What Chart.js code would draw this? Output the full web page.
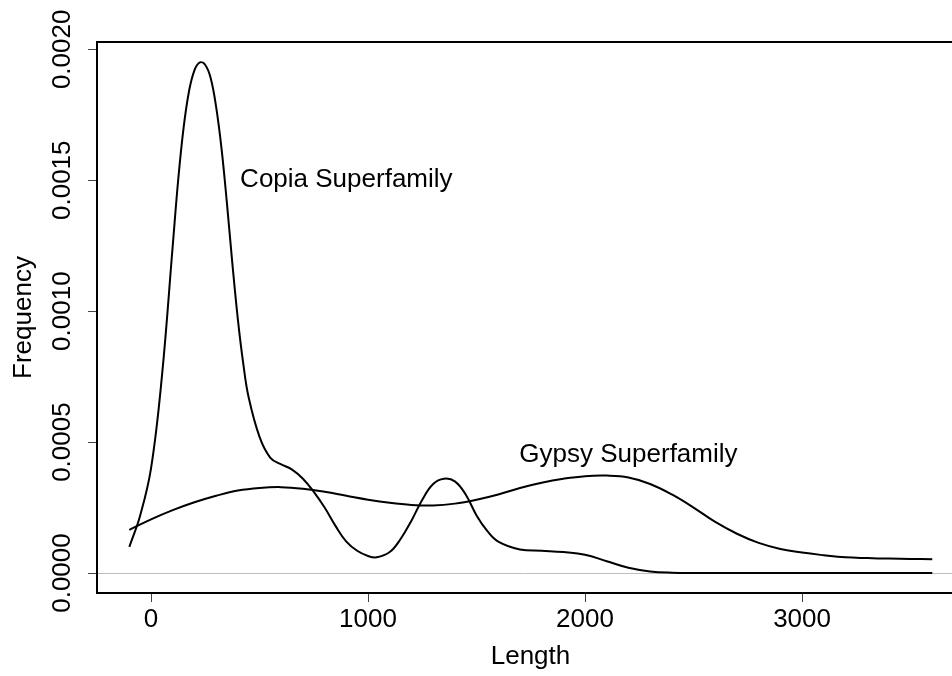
<!DOCTYPE html>
<html>
<head>
<meta charset="utf-8">
<script src="https://cdn.jsdelivr.net/npm/chart.js@4"></script>
<style>
  html, body { margin: 0; padding: 0; background: #fff; }
  #wrap { width: 952px; height: 676px; }
</style>
</head>
<body>
<div id="wrap"><canvas id="chDensity" width="952" height="676"></canvas></div>
<script>
// density curves
const lengthX = [-100, -50, 0, 50, 100, 125, 150, 175, 200, 225, 250, 275, 300, 325, 350, 375, 400, 425, 450, 500, 550, 600, 650, 700, 750, 800, 850, 900, 950, 1000, 1040, 1100, 1150, 1200, 1250, 1300, 1350, 1400, 1450, 1500, 1550, 1600, 1700, 1800, 1900, 2000, 2100, 2200, 2300, 2400, 2500, 2800, 3200, 3600];
const copia = [0.0001, 0.00022, 0.0004, 0.00075, 0.00125, 0.0015, 0.0017, 0.00184, 0.00192, 0.00195, 0.00194, 0.00189, 0.00178, 0.00162, 0.00141, 0.00118, 0.00097, 0.0008, 0.00067, 0.00052, 0.00044, 0.000415, 0.000395, 0.00036, 0.00031, 0.00025, 0.00018, 0.00012, 0.000085, 0.000065, 0.00006, 0.00008, 0.00013, 0.0002, 0.00028, 0.00034, 0.00036, 0.00035, 0.0003, 0.00022, 0.00016, 0.00012, 0.00009, 0.000085, 0.00008, 0.00007, 0.000045, 0.00002, 0.000006, 0.000001, 0, 0, 0, 0];

const gypsyX = [-100, 0, 100, 200, 300, 400, 500, 600, 700, 800, 900, 1000, 1100, 1200, 1300, 1400, 1500, 1600, 1700, 1800, 1900, 2000, 2100, 2200, 2300, 2400, 2500, 2600, 2700, 2800, 2900, 3000, 3100, 3200, 3300, 3400, 3500, 3600];
const gypsy = [0.000165, 0.000205, 0.00024, 0.00027, 0.000295, 0.000315, 0.000325, 0.000328, 0.000322, 0.00031, 0.000295, 0.00028, 0.000268, 0.00026, 0.000258, 0.000265, 0.00028, 0.0003, 0.000325, 0.000345, 0.00036, 0.00037, 0.000372, 0.000365, 0.00034, 0.0003, 0.00025, 0.000195, 0.00015, 0.000115, 0.000092, 0.000078, 0.000068, 0.00006, 0.000057, 0.000055, 0.000054, 0.000053];

const xTicks = [0, 1000, 2000, 3000];
const yTicks = [0, 0.0005, 0.001, 0.0015, 0.002];
const yTickLabels = ['0.0000', '0.0005', '0.0010', '0.0015', '0.0020'];
const notes = [
  { text: 'Copia Superfamily', x: 900, y: 0.0015 },
  { text: 'Gypsy Superfamily', x: 2200, y: 0.00045 }
];

const FONT = '26px "Liberation Sans", Arial, sans-serif';

// R-style box, zero line, rotated y labels and annotations
const rDecor = {
  id: 'rDecor',
  beforeDatasetsDraw(chart) {
    const { ctx, chartArea: a, scales: { y } } = chart;
    const y0 = y.getPixelForValue(0);
    ctx.save();
    ctx.strokeStyle = '#bebebe';
    ctx.lineWidth = 1;
    ctx.beginPath();
    ctx.moveTo(a.left, Math.round(y0) + 0.5);
    ctx.lineTo(a.right, Math.round(y0) + 0.5);
    ctx.stroke();
    ctx.restore();
  },
  afterDraw(chart) {
    const { ctx, chartArea: a, scales: { x, y } } = chart;
    ctx.save();
    // box (right side falls outside the picture)
    ctx.strokeStyle = '#000';
    ctx.lineWidth = 2;
    ctx.beginPath();
    ctx.moveTo(a.right + 5, a.top);
    ctx.lineTo(a.left, a.top);
    ctx.lineTo(a.left, a.bottom);
    ctx.lineTo(a.right + 5, a.bottom);
    ctx.stroke();

    ctx.fillStyle = '#000';
    ctx.font = FONT;
    ctx.textAlign = 'center';
    ctx.textBaseline = 'middle';
    xTicks.forEach(v => ctx.fillText(String(v), x.getPixelForValue(v), 620));
    ctx.fillText('Length', (a.left + 964) / 2, 657);
    notes.forEach(n => ctx.fillText(n.text, x.getPixelForValue(n.x), y.getPixelForValue(n.y)));

    yTicks.forEach((v, i) => {
      ctx.save();
      ctx.translate(63, y.getPixelForValue(v));
      ctx.rotate(-Math.PI / 2);
      ctx.fillText(yTickLabels[i], 0, 0);
      ctx.restore();
    });
    ctx.save();
    ctx.translate(24, (a.top + a.bottom) / 2);
    ctx.rotate(-Math.PI / 2);
    ctx.fillText('Frequency', 0, 0);
    ctx.restore();
    ctx.restore();
  }
};

const lineStyle = { borderColor: '#000', borderWidth: 2, pointRadius: 0, fill: false, tension: 0.4 };

new Chart(document.getElementById('chDensity'), {
  type: 'line',
  data: {
    datasets: [
      { label: 'Copia', data: lengthX.map((v, i) => ({ x: v, y: copia[i] })), ...lineStyle },
      { label: 'Gypsy', data: gypsyX.map((v, i) => ({ x: v, y: gypsy[i] })), ...lineStyle }
    ]
  },
  options: {
    responsive: false, animation: false,
    layout: { padding: { top: 42, right: 0, left: 0, bottom: 0 } },
    plugins: { legend: { display: false }, tooltip: { enabled: false } },
    scales: {
      x: {
        type: 'linear', min: -249, max: 3691,
        afterBuildTicks: s => { s.ticks = xTicks.map(v => ({ value: v })); },
        afterFit: s => { s.height = 83; },
        grid: { drawOnChartArea: false, tickLength: 9, color: '#444' },
        border: { display: false },
        ticks: { color: 'rgba(0,0,0,0)', font: { size: 10 } }
      },
      y: {
        min: -0.0000763, max: 0.002028,
        afterBuildTicks: s => { s.ticks = yTicks.map(v => ({ value: v })); },
        afterFit: s => { s.width = 97; },
        grid: { drawOnChartArea: false, tickLength: 9, color: '#444' },
        border: { display: false },
        ticks: { color: 'rgba(0,0,0,0)', font: { size: 10 } }
      }
    }
  },
  plugins: [rDecor]
});
</script>
</body>
</html>
